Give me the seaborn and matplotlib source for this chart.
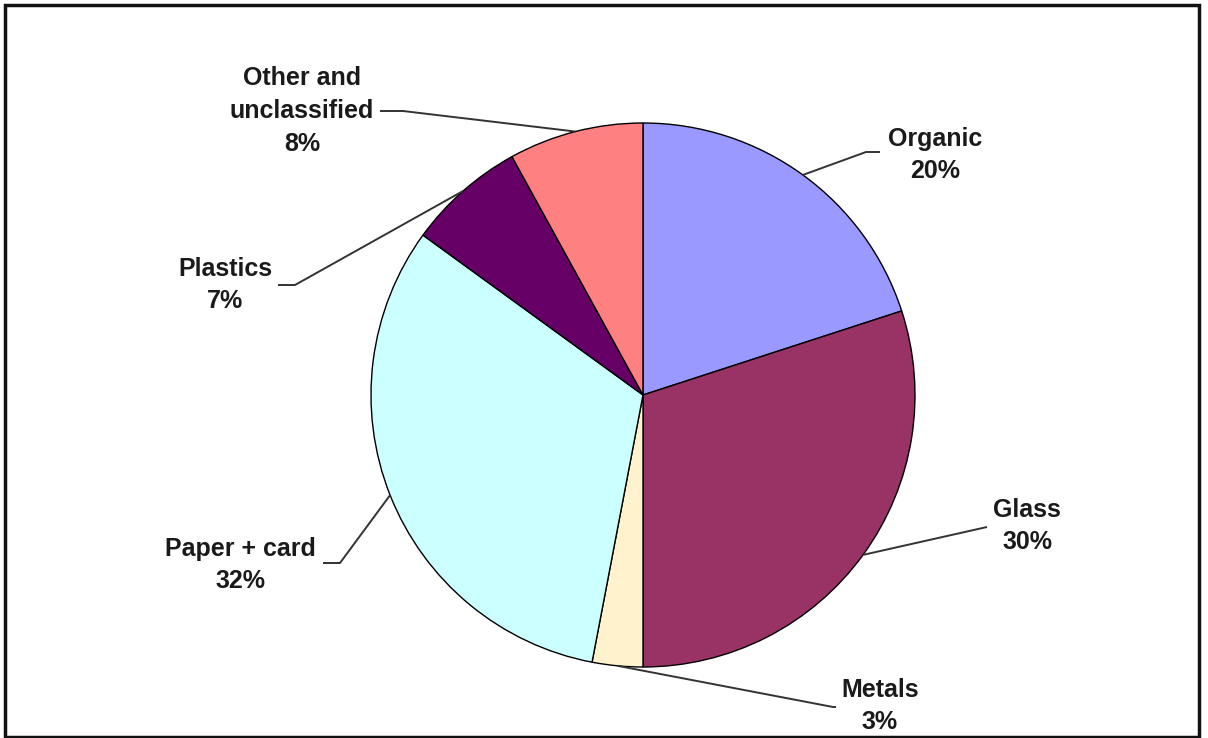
import numpy as np
import matplotlib
matplotlib.use("Agg")
import matplotlib.pyplot as plt
from matplotlib.patches import Rectangle
import seaborn as sns

# ---- data ----
categories = ["Organic", "Glass", "Metals", "Paper + card", "Plastics", "Other and\nunclassified"]
shares = [20, 30, 3, 32, 7, 8]
colors = ["#9999FF", "#993366", "#FFF2CC", "#CCFFFF", "#660066", "#FF8080"]

# ---- layout (pixel space, y measured downward) ----
W, H = 1208, 738
center_px = (643, 395)
radius_px = 272
label_pos = [(935, 155), (1027, 526), (880, 706), (240, 565), (225, 285), (302, 111)]
elbow_pos = [(866, 152), (987, 527), (833, 707), (340, 563), (295, 285), (403, 111)]
text_end = [(880, 152), (987, 527), (836, 707), (323, 563), (278, 285), (380, 111)]

sns.set_theme(style="white")
plt.rcParams["font.family"] = ["Liberation Sans", "DejaVu Sans"]

fig = plt.figure(figsize=(W / 100, H / 100), dpi=100)
ax = fig.add_axes([0, 0, 1, 1])

cx, cy = center_px[0], H - center_px[1]
wedges, _ = ax.pie(shares, colors=colors, startangle=90, counterclock=False,
                   center=(cx, cy), radius=radius_px,
                   wedgeprops=dict(edgecolor="black", linewidth=1.0))
ax.set_xlim(0, W)
ax.set_ylim(0, H)
ax.set_aspect("equal")
ax.axis("off")

for w, cat, share, lp, ep, te in zip(wedges, categories, shares, label_pos, elbow_pos, text_end):
    mid = np.deg2rad((w.theta1 + w.theta2) / 2)
    ax_x = cx + radius_px * np.cos(mid)
    ax_y = cy + radius_px * np.sin(mid)
    ax.plot([ax_x, ep[0], te[0]], [ax_y, H - ep[1], H - te[1]],
            color="#333333", lw=1.4, solid_capstyle="butt", zorder=3)
    ax.text(lp[0], H - lp[1], f"{cat}\n{share}%", ha="center", va="center",
            fontsize=18, fontweight="bold", color="#1a1a1a", linespacing=1.45)

fig.patches.append(Rectangle((5 / W, 1.5 / H), 1194 / W, 732 / H, transform=fig.transFigure,
                             fill=False, edgecolor="#111111", linewidth=2.5))

fig.savefig("out.png", dpi=100, facecolor="white")
